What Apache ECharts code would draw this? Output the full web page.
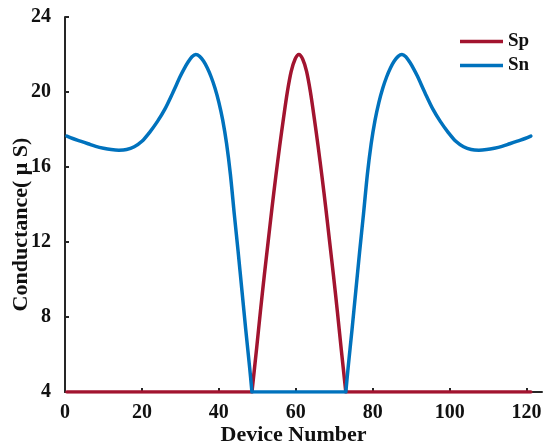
<!DOCTYPE html>
<html lang="en">
<head>
    <meta charset="UTF-8">
    <title>Conductance vs Device Number</title>
    <script src="https://cdn.jsdelivr.net/npm/echarts@6/dist/echarts.min.js"></script>
    <style>
        html, body { margin: 0; padding: 0; background: #fff; }
        #mychart { width: 544px; height: 447px; }
    </style>
</head>
<body>
<div id="mychart"></div>
<script>
    // device number / conductance
    // null splits a curve at its sharp corners so the smooth parts stay smooth
    var spX = [0.5, 48.6, 48.6, 48.6, 49.8, 50.8, 51.8, 52.8, 53.8, 54.8, 55.8, 56.8, 57.8, 58.8,
        59.8, 60.8, 61.8, 62.8, 63.8, 64.8, 65.8, 66.8, 67.8, 68.8, 69.8, 70.8, 71.8, 73.0, 73.0,
        73.0, 121.1];
    var spY = [4, 4, null, 4, 6.3, 8.3, 10.2, 12.0, 13.8, 15.5, 17.1, 18.6, 20.0, 21.1,
        21.75, 22.0, 21.75, 21.1, 20.0, 18.6, 17.1, 15.5, 13.8, 12.0, 10.2, 8.3, 6.3, 4, null,
        4, 4];

    var snX = [0.5, 2, 4, 6, 8, 10, 12, 14, 16, 18, 20, 22, 24, 26, 28, 30, 31, 32, 33, 34, 35, 36,
        37, 38, 39, 40, 41, 42, 43, 44, 45, 46, 47, 48, 48.6, 48.6, 48.6, 73.0, 73.0, 73.0, 73.6,
        74.6, 75.6, 76.6, 77.6, 78.6, 79.6, 80.6, 81.6, 82.6, 83.6, 84.6, 85.6, 86.6, 87.6, 88.6,
        89.6, 90.6, 91.6, 93.6, 95.6, 97.6, 99.6, 101.6, 103.6, 105.6, 107.6, 109.6, 111.6, 113.6,
        115.6, 117.6, 119.6, 121.1];
    var snY = [17.65, 17.52, 17.38, 17.24, 17.1, 17.0, 16.93, 16.9, 16.93, 17.08, 17.37, 17.85,
        18.42, 19.1, 19.95, 20.85, 21.25, 21.6, 21.88, 22.0, 21.9, 21.65, 21.28, 20.8, 20.2,
        19.45, 18.5, 17.25, 15.6, 13.5, 11.5, 9.4, 7.3, 5.3, 4, null, 4, 4, null, 4, 5.3, 7.3,
        9.4, 11.5, 13.5, 15.6, 17.25, 18.5, 19.45, 20.2, 20.8, 21.28, 21.65, 21.9, 22.0, 21.88,
        21.6, 21.25, 20.85, 19.95, 19.1, 18.42, 17.85, 17.37, 17.08, 16.93, 16.9, 16.93, 17.0,
        17.1, 17.24, 17.38, 17.52, 17.65];

    var xTicks = [0, 20, 40, 60, 80, 100, 120];
    var seriesNames = ['Sp', 'Sn'];

    function pairs(xs, ys) {
        var out = [];
        for (var i = 0; i < xs.length; i++) {
            out.push([xs[i], ys[i]]);
        }
        return out;
    }

    var font = 'Liberation Serif';
    var axisColor = '#262626';

    var e = echarts.init(document.getElementById('mychart'));
    var op = {
        animation: false,
        grid: {
            left: 65,
            right: 2,
            top: 17,
            bottom: 55,
            containLabel: false,
            outerBoundsMode: 'none'
        },
        legend: {
            data: seriesNames,
            orient: 'vertical',
            left: 455,
            top: 27,
            icon: 'rect',
            itemWidth: 43,
            itemHeight: 3.5,
            itemGap: 5,
            textStyle: {
                fontFamily: font,
                fontWeight: 'bold',
                fontSize: 19,
                color: '#111'
            }
        },
        xAxis: {
            type: 'value',
            min: 0,
            max: 124,
            name: 'Device Number',
            nameLocation: 'middle',
            nameGap: 32,
            nameMoveOverlap: false,
            nameTextStyle: {
                fontFamily: font,
                fontWeight: 'bold',
                fontSize: 22,
                color: '#111',
                padding: [0, 20, 0, 0]
            },
            splitLine: { show: false },
            axisLine: { lineStyle: { color: axisColor, width: 2 } },
            axisTick: {
                inside: true,
                length: 4,
                customValues: xTicks,
                lineStyle: { color: axisColor, width: 2 }
            },
            axisLabel: {
                margin: 11,
                customValues: xTicks,
                fontFamily: font,
                fontWeight: 'bold',
                fontSize: 20,
                color: '#111'
            }
        },
        yAxis: {
            type: 'value',
            min: 4,
            max: 24,
            interval: 4,
            name: 'Conductance( μ S)',
            nameLocation: 'middle',
            nameGap: 33,
            nameMoveOverlap: false,
            nameTextStyle: {
                fontFamily: font,
                fontWeight: 'bold',
                fontSize: 22,
                color: '#111',
                padding: [0, 40, 0, 0]
            },
            splitLine: { show: false },
            axisLine: { show: true, lineStyle: { color: axisColor, width: 2 } },
            axisTick: {
                show: true,
                inside: true,
                length: 4,
                lineStyle: { color: axisColor, width: 2 }
            },
            axisLabel: {
                margin: 14,
                fontFamily: font,
                fontWeight: 'bold',
                fontSize: 20,
                color: '#111'
            }
        },
        series: [{
            name: 'Sp',
            type: 'line',
            data: pairs(spX, spY),
            showSymbol: false,
            smooth: 0.3,
            color: '#A2142F',
            lineStyle: { width: 3.5, color: '#A2142F', cap: 'round', join: 'round' }
        }, {
            name: 'Sn',
            type: 'line',
            data: pairs(snX, snY),
            showSymbol: false,
            smooth: 0.3,
            color: '#0072BD',
            lineStyle: { width: 3.5, color: '#0072BD', cap: 'round', join: 'round' }
        }]
    };
    e.setOption(op);
</script>
</body>
</html>
